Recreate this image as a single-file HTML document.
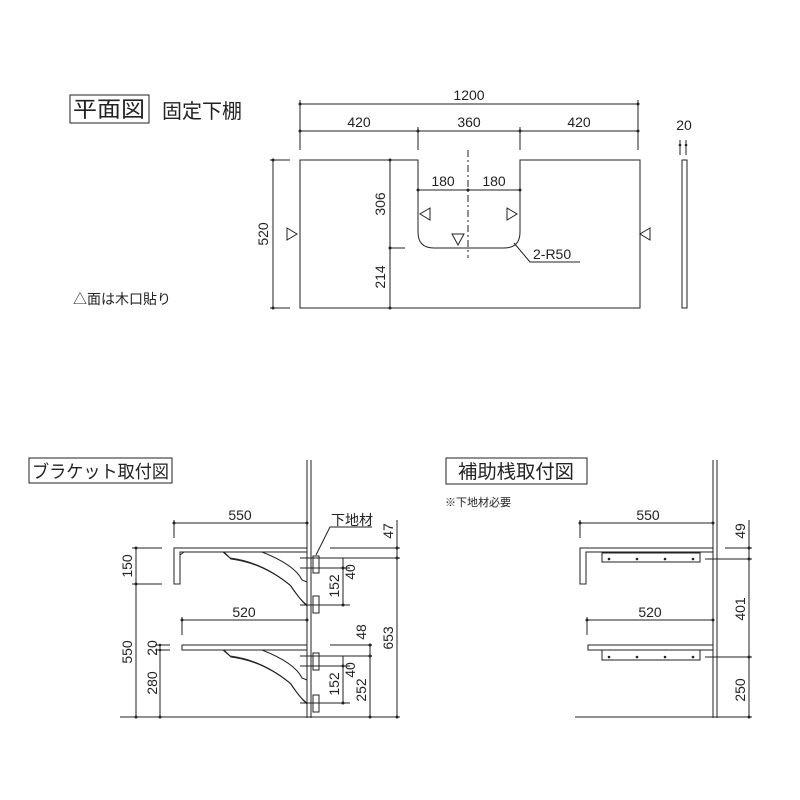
<!DOCTYPE html>
<html><head><meta charset="utf-8"><style>
html,body{margin:0;padding:0;background:#fff}
svg{display:block}
text{font-family:"Liberation Sans","Noto Sans CJK JP",sans-serif;fill:#222}
</style></head><body>
<svg width="800" height="800" viewBox="0 0 800 800" xmlns="http://www.w3.org/2000/svg">
<g stroke="#222" stroke-width="1" fill="none">
<!-- PLAN VIEW -->
<rect x="70" y="95" width="79" height="28" fill="#fff"/>
<line x1="300" y1="104" x2="638" y2="104"/>
<line x1="300" y1="131" x2="638" y2="131"/>
<line x1="300" y1="100" x2="300" y2="150"/>
<line x1="638" y1="100" x2="638" y2="150"/>
<line x1="418" y1="127" x2="418" y2="150"/>
<line x1="520" y1="127" x2="520" y2="150"/>
<path d="M300 160 H418 V232 Q418 248 434 248 H504 Q520 248 520 232 V160 H640 V308 H300 Z"/>
<line x1="468" y1="150" x2="468" y2="258" stroke-dasharray="7 3 2 3"/>
<line x1="418" y1="190" x2="520" y2="190"/>
<line x1="390" y1="160" x2="390" y2="308"/>
<line x1="390" y1="248" x2="405" y2="248"/>
<line x1="273" y1="160" x2="273" y2="308"/>
<line x1="270" y1="160" x2="290" y2="160"/>
<line x1="270" y1="308" x2="290" y2="308"/>
<line x1="680" y1="140" x2="680" y2="155"/>
<line x1="686" y1="140" x2="686" y2="155"/>
<rect x="682" y="160" width="5" height="148"/>
<path d="M514 243 L530 262 H580"/>
<path d="M287 228 L297 234 L287 240 Z"/>
<path d="M650 228 L640 234 L650 240 Z"/>
<path d="M430 208 L420 214 L430 220 Z"/>
<path d="M507 208 L517 214 L507 220 Z"/>
<path d="M452 234 L464 234 L458 245 Z"/>

<!-- BRACKET VIEW -->
<rect x="29" y="458" width="143" height="25" fill="#fff"/>
<line x1="307" y1="460" x2="307" y2="718"/>
<line x1="311" y1="460" x2="311" y2="718"/>
<line x1="174" y1="523" x2="307" y2="523"/>
<line x1="174" y1="520" x2="174" y2="538"/>
<path d="M174 548 H307 V552 H180 V584 H174 Z"/>
<path d="M180 555 L184 552"/>
<path d="M223 552 L230 558 Q262 562 290 585 Q300 600 307 605"/>
<path d="M224 552 L231 559 Q263 563 291 586 Q301 601 307 606"/>
<path d="M262 552 Q295 565 302 580 L307 582"/>
<path d="M223 650 L230 656 Q262 660 290 683 Q300 698 307 703"/>
<path d="M224 650 L231 657 Q263 661 291 684 Q301 699 307 704"/>
<path d="M262 650 Q295 663 302 678 L307 680"/>
<rect x="313" y="556" width="6" height="17"/>
<rect x="313" y="596" width="6" height="17"/>
<rect x="313" y="653" width="6" height="17"/>
<rect x="313" y="695" width="6" height="17"/>
<line x1="182" y1="620" x2="307" y2="620"/>
<line x1="182" y1="617" x2="182" y2="635"/>
<rect x="182" y="645" width="125" height="5"/>
<line x1="136" y1="548" x2="136" y2="717"/>
<line x1="132" y1="548" x2="162" y2="548"/>
<line x1="132" y1="584" x2="162" y2="584"/>
<line x1="160" y1="645" x2="160" y2="717"/>
<line x1="155" y1="645" x2="170" y2="645"/>
<line x1="155" y1="650" x2="170" y2="650"/>
<line x1="120" y1="717" x2="400" y2="717"/>
<line x1="343" y1="558" x2="343" y2="605"/>
<line x1="343" y1="656" x2="343" y2="703"/>
<line x1="370" y1="645" x2="370" y2="717"/>
<line x1="397" y1="520" x2="397" y2="717"/>
<line x1="330" y1="548" x2="400" y2="548"/>
<line x1="300" y1="558" x2="400" y2="558"/>
<line x1="300" y1="568" x2="350" y2="568"/>
<line x1="300" y1="605" x2="350" y2="605"/>
<line x1="330" y1="645" x2="372" y2="645"/>
<line x1="300" y1="656" x2="372" y2="656"/>
<line x1="300" y1="666" x2="350" y2="666"/>
<line x1="300" y1="703" x2="350" y2="703"/>
<path d="M316 555 L330 527 H372"/>

<!-- AUX VIEW -->
<rect x="446" y="458" width="141" height="26" fill="#fff"/>
<line x1="713" y1="460" x2="713" y2="718"/>
<line x1="717" y1="460" x2="717" y2="718"/>
<line x1="580" y1="523" x2="713" y2="523"/>
<line x1="580" y1="520" x2="580" y2="538"/>
<path d="M580 548 H713 V552 H586 V584 H580 Z"/>
<rect x="602" y="553" width="98" height="9"/>
<rect x="602" y="650" width="98" height="10"/>
<line x1="587" y1="620" x2="713" y2="620"/>
<line x1="587" y1="617" x2="587" y2="635"/>
<rect x="588" y="645" width="125" height="5"/>
<line x1="749" y1="520" x2="749" y2="717"/>
<line x1="725" y1="548" x2="752" y2="548"/>
<line x1="705" y1="559" x2="752" y2="559"/>
<line x1="705" y1="657" x2="752" y2="657"/>
<line x1="575" y1="717" x2="752" y2="717"/>
</g>
<g fill="#222">
<circle cx="300" cy="104" r="1.5"/><circle cx="638" cy="104" r="1.5"/>
<circle cx="300" cy="131" r="1.5"/><circle cx="418" cy="131" r="1.5"/><circle cx="520" cy="131" r="1.5"/><circle cx="638" cy="131" r="1.5"/>
<circle cx="418" cy="190" r="1.5"/><circle cx="468" cy="190" r="1.5"/><circle cx="520" cy="190" r="1.5"/>
<circle cx="390" cy="160" r="1.5"/><circle cx="390" cy="248" r="1.5"/><circle cx="390" cy="308" r="1.5"/>
<circle cx="273" cy="160" r="1.5"/><circle cx="273" cy="308" r="1.5"/>
<circle cx="680" cy="145" r="1.3"/><circle cx="686" cy="145" r="1.3"/>
<circle cx="174" cy="523" r="1.5"/><circle cx="307" cy="523" r="1.5"/><circle cx="182" cy="620" r="1.5"/><circle cx="307" cy="620" r="1.5"/>
<circle cx="136" cy="548" r="1.5"/><circle cx="136" cy="584" r="1.5"/><circle cx="136" cy="717" r="1.5"/>
<circle cx="160" cy="645" r="1.3"/><circle cx="160" cy="650" r="1.3"/><circle cx="160" cy="717" r="1.5"/>
<circle cx="343" cy="568" r="1.5"/><circle cx="343" cy="605" r="1.5"/><circle cx="343" cy="666" r="1.5"/><circle cx="343" cy="703" r="1.5"/>
<circle cx="370" cy="645" r="1.5"/><circle cx="370" cy="656" r="1.5"/><circle cx="370" cy="717" r="1.5"/>
<circle cx="397" cy="548" r="1.5"/><circle cx="397" cy="558" r="1.5"/><circle cx="397" cy="717" r="1.5"/>
<circle cx="580" cy="523" r="1.5"/><circle cx="713" cy="523" r="1.5"/><circle cx="587" cy="620" r="1.5"/><circle cx="713" cy="620" r="1.5"/>
<circle cx="749" cy="548" r="1.5"/><circle cx="749" cy="559" r="1.5"/><circle cx="749" cy="657" r="1.5"/><circle cx="749" cy="717" r="1.5"/>
<circle cx="609" cy="559" r="1.3"/><circle cx="637" cy="559" r="1.3"/><circle cx="665" cy="559" r="1.3"/><circle cx="693" cy="559" r="1.3"/>
<circle cx="609" cy="657" r="1.3"/><circle cx="637" cy="657" r="1.3"/><circle cx="665" cy="657" r="1.3"/><circle cx="693" cy="657" r="1.3"/>
</g>
<g font-size="14">
<text x="73" y="117" font-size="22" textLength="72" lengthAdjust="spacingAndGlyphs">平面図</text>
<text x="162" y="118" font-size="20">固定下棚</text>
<text x="469" y="100" text-anchor="middle">1200</text>
<text x="359" y="127" text-anchor="middle">420</text>
<text x="469" y="127" text-anchor="middle">360</text>
<text x="579" y="127" text-anchor="middle">420</text>
<text x="684" y="130" text-anchor="middle">20</text>
<text x="443" y="186" text-anchor="middle">180</text>
<text x="494" y="186" text-anchor="middle">180</text>
<text x="533" y="259">2-R50</text>
<text transform="translate(385 204) rotate(-90)" text-anchor="middle">306</text>
<text transform="translate(385 277) rotate(-90)" text-anchor="middle">214</text>
<text transform="translate(268 234) rotate(-90)" text-anchor="middle">520</text>
<text x="73" y="304">△面は木口貼り</text>

<text x="32" y="478" font-size="18" textLength="137" lengthAdjust="spacingAndGlyphs">ブラケット取付図</text>
<text x="240" y="520" text-anchor="middle">550</text>
<text x="244" y="617" text-anchor="middle">520</text>
<text x="331" y="525">下地材</text>
<text transform="translate(132 566) rotate(-90)" text-anchor="middle">150</text>
<text transform="translate(132 652) rotate(-90)" text-anchor="middle">550</text>
<text transform="translate(157 648) rotate(-90)" text-anchor="middle">20</text>
<text transform="translate(157 683) rotate(-90)" text-anchor="middle">280</text>
<text transform="translate(339 586) rotate(-90)" text-anchor="middle">152</text>
<text transform="translate(355 572) rotate(-90)" text-anchor="middle">40</text>
<text transform="translate(339 684) rotate(-90)" text-anchor="middle">152</text>
<text transform="translate(355 670) rotate(-90)" text-anchor="middle">40</text>
<text transform="translate(366 632) rotate(-90)" text-anchor="middle">48</text>
<text transform="translate(366 690) rotate(-90)" text-anchor="middle">252</text>
<text transform="translate(393 531) rotate(-90)" text-anchor="middle">47</text>
<text transform="translate(393 638) rotate(-90)" text-anchor="middle">653</text>

<text x="458" y="478" font-size="19" textLength="116" lengthAdjust="spacingAndGlyphs">補助桟取付図</text>
<text x="445" y="506" font-size="11">※下地材必要</text>
<text x="648" y="520" text-anchor="middle">550</text>
<text x="650" y="617" text-anchor="middle">520</text>
<text transform="translate(745 531) rotate(-90)" text-anchor="middle">49</text>
<text transform="translate(745 609) rotate(-90)" text-anchor="middle">401</text>
<text transform="translate(745 690) rotate(-90)" text-anchor="middle">250</text>
</g>
</svg>
</body></html>
